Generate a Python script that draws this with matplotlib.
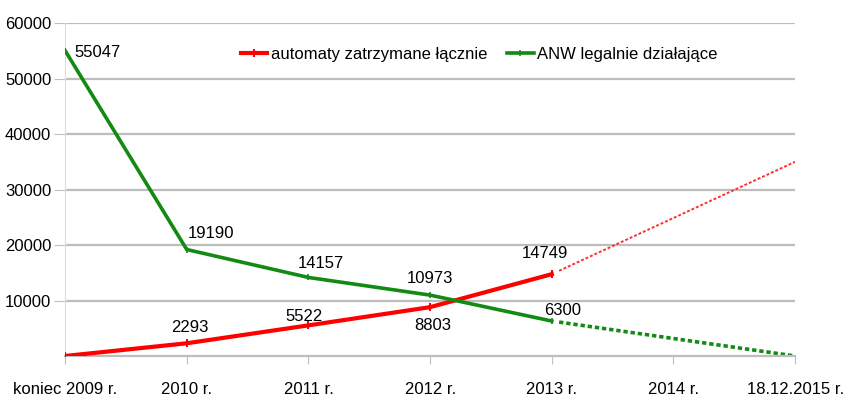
import matplotlib.pyplot as plt
import numpy as np

plt.rcParams['font.family'] = ['Liberation Sans', 'DejaVu Sans']

lata = ["koniec 2009 r.", "2010 r.", "2011 r.", "2012 r.", "2013 r.", "2014 r.", "18.12.2015 r."]
zatrzymane = [0, 2293, 5522, 8803, 14749]
legalne = [55047, 19190, 14157, 10973, 6300]
# prognoza do konca 2015
zatrzymane_prog = [14749, 35000]
legalne_prog = [6300, 0]

x = np.arange(len(zatrzymane))
xp = [4, 6]

fig = plt.figure(figsize=(8.45, 4.05), dpi=100)
ax = fig.add_axes([0.077, 0.121, 0.864, 0.822])

ax.plot(x, zatrzymane, color='#ff0000', lw=3, marker='|', ms=6, mew=1.5,
        label='automaty zatrzymane łącznie', zorder=3)
ax.plot(x, legalne, color='#138a13', lw=2.6, marker='|', ms=5, mew=1.2,
        label='ANW legalnie działające', zorder=3)

# linie przerywane z mala przerwa za 2013
g = 0.06
ax.plot([xp[0] + g, xp[1]],
        [np.interp(xp[0] + g, xp, zatrzymane_prog), zatrzymane_prog[1]],
        color='#ff3030', lw=1.4, ls=(0, (1.5, 1)), zorder=2)
ax.plot([xp[0] + g, xp[1]],
        [np.interp(xp[0] + g, xp, legalne_prog), legalne_prog[1]],
        color='#138a13', lw=2.6, ls=(0, (1.2, 0.8)), zorder=2)

# etykiety wartosci (przesuniecie w pikselach)
fs = 12
przes_leg = [(32, -2), (24, 16), (12, 14), (0, 17), (11, 11)]
przes_zat = [None, (3, 16), (-4, 9), (3, -18), (-7, 21)]
for i, v in enumerate(legalne):
    ax.annotate(str(v), (x[i], v), xytext=przes_leg[i], textcoords='offset pixels',
                fontsize=fs, ha='center', va='center', zorder=4)
for i, v in enumerate(zatrzymane):
    if przes_zat[i] is None:
        continue
    ax.annotate(str(v), (x[i], v), xytext=przes_zat[i], textcoords='offset pixels',
                fontsize=fs, ha='center', va='center', zorder=4)

ax.set_xlim(0, 6)
ax.set_ylim(0, 60000)
ax.set_yticks([10000, 20000, 30000, 40000, 50000, 60000])
ax.set_yticklabels(["10000", "20000", "30000", "40000", "50000", "60000"], fontsize=12)
ax.set_xticks(range(len(lata)))
ax.set_xticklabels(lata, fontsize=12)
ax.tick_params(axis='x', length=6, color='#c0c0c0', pad=13)
ax.tick_params(axis='y', length=8, color='#c0c0c0', pad=2)
ax.grid(axis='y', color='#bdbdbd', lw=1.6)
for s in ['top', 'right']:
    ax.spines[s].set_visible(False)
ax.spines['left'].set_color('#dddddd')
ax.spines['bottom'].set_color('#bdbdbd')
ax.spines['bottom'].set_linewidth(1.6)

ax.legend(loc='center', bbox_to_anchor=(0.567, 0.907), ncol=2, frameon=False, fontsize=12,
          handlelength=1.6, handletextpad=0.2, columnspacing=1.2)

plt.savefig("out.png")
